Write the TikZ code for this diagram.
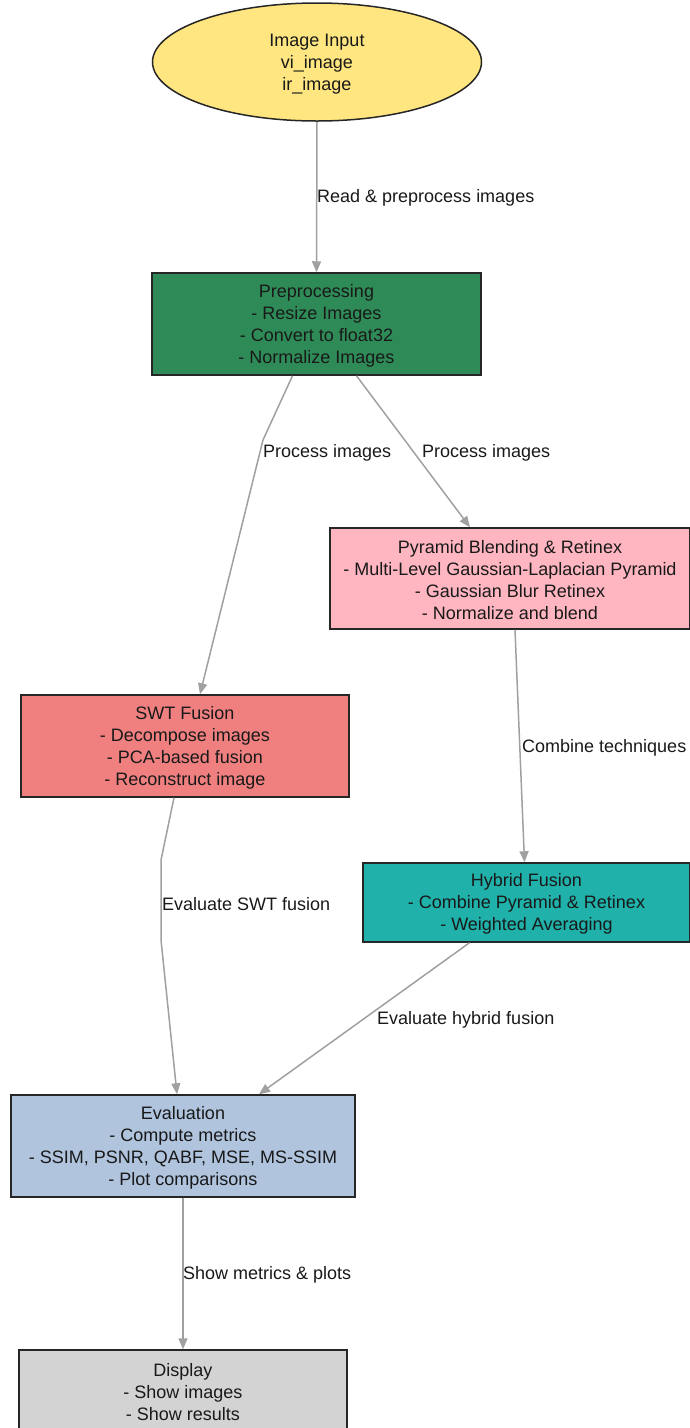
\documentclass[tikz,border=0pt]{standalone}
\usepackage{fontspec}
\setmainfont{Liberation Sans}
\usetikzlibrary{positioning}
\usetikzlibrary{shapes.geometric}
\usetikzlibrary{arrows.meta}
\definecolor{inputyellow}{HTML}{FFE680}
\definecolor{prepgreen}{HTML}{2E8B57}
\definecolor{pyrpink}{HTML}{FFB6C1}
\definecolor{swtcoral}{HTML}{F08080}
\definecolor{hybridteal}{HTML}{20B2AA}
\definecolor{evalblue}{HTML}{B0C4DE}
\definecolor{showgray}{HTML}{D3D3D3}
\definecolor{edgegray}{HTML}{A0A0A0}
\tikzset{
	every node/.style = {font=\fontsize{18}{22}\selectfont, text=black!90},
	stage/.style = {draw=black!85, line width=1.5pt, rectangle, align=center, inner sep=0pt},
	flow/.style = {draw=edgegray, line width=1.5pt, -{Triangle[length=11pt,width=9pt]}},
	tag/.style = {anchor=west, inner sep=1pt}
}
% first line strut, pushes the text a little down
\newcommand{\topstrut}{\rule{0pt}{16.5pt}}

\begin{document}
\begin{tikzpicture}[x=1pt, y=-1pt]
		\useasboundingbox (0,0) rectangle (689,1428);
		% stages
		\node[stage, ellipse, fill=inputyellow, minimum width=329pt, minimum height=118pt] (input) at (317,62) {\topstrut Image Input\\vi\_image\\ir\_image};
		\node[stage, fill=prepgreen, minimum width=329pt, minimum height=102pt] (prep) at (316.5,324) {\topstrut Preprocessing\\- Resize Images\\- Convert to float32\\- Normalize Images};
		\node[stage, fill=pyrpink, minimum width=360pt, minimum height=101pt] (pyramid) at (510,578.5) {\topstrut Pyramid Blending \& Retinex\\- Multi-Level Gaussian-Laplacian Pyramid\\- Gaussian Blur Retinex\\- Normalize and blend};
		\node[stage, fill=swtcoral, minimum width=328pt, minimum height=102pt] (swt) at (185,746) {\topstrut SWT Fusion\\- Decompose images\\- PCA-based fusion\\- Reconstruct image};
		\node[stage, fill=hybridteal, minimum width=327pt, minimum height=79pt] (hybrid) at (526.5,902.5) {\topstrut Hybrid Fusion\\- Combine Pyramid \& Retinex\\- Weighted Averaging};
		\node[stage, fill=evalblue, minimum width=344pt, minimum height=102pt] (eval) at (183,1146) {\topstrut Evaluation\\- Compute metrics\\- SSIM, PSNR, QABF, MSE, MS-SSIM\\- Plot comparisons};
		\node[stage, fill=showgray, minimum width=328pt, minimum height=80pt] (display) at (183,1390) {\topstrut Display\\- Show images\\- Show results};
		
		% connectors
		\draw[flow] (input.south) -- (prep.north);
		\draw[flow] ([xshift=-24pt]prep.south) -- (263,440) -- ([xshift=15pt]swt.north);
		\draw[flow] ([xshift=40pt]prep.south) -- ([xshift=-40pt]pyramid.north);
		\draw[flow] ([xshift=5pt]pyramid.south) -- ([xshift=-2pt]hybrid.north);
		\draw[flow] ([xshift=-11pt]swt.south) -- (161,860) -- (161,940) -- ([xshift=-6pt]eval.north);
		\draw[flow] ([xshift=-57pt]hybrid.south) -- ([xshift=76pt]eval.north);
		\draw[flow] (eval.south) -- (display.north);
		
		% edge labels
		\node[tag] (lread) at (316,198) {Read \& preprocess images};
		\node[tag] (lprocl) at (262,453) {Process images};
		\node[tag] (lprocr) at (421,453) {Process images};
		\node[tag] (lcomb) at (521,748) {Combine techniques};
		\node[tag] (lswt) at (161,904) {Evaluate SWT fusion};
		\node[tag] (lhyb) at (376,1020) {Evaluate hybrid fusion};
		\node[tag] (lshow) at (182,1275) {Show metrics \& plots};
	\end{tikzpicture}
\end{document}
